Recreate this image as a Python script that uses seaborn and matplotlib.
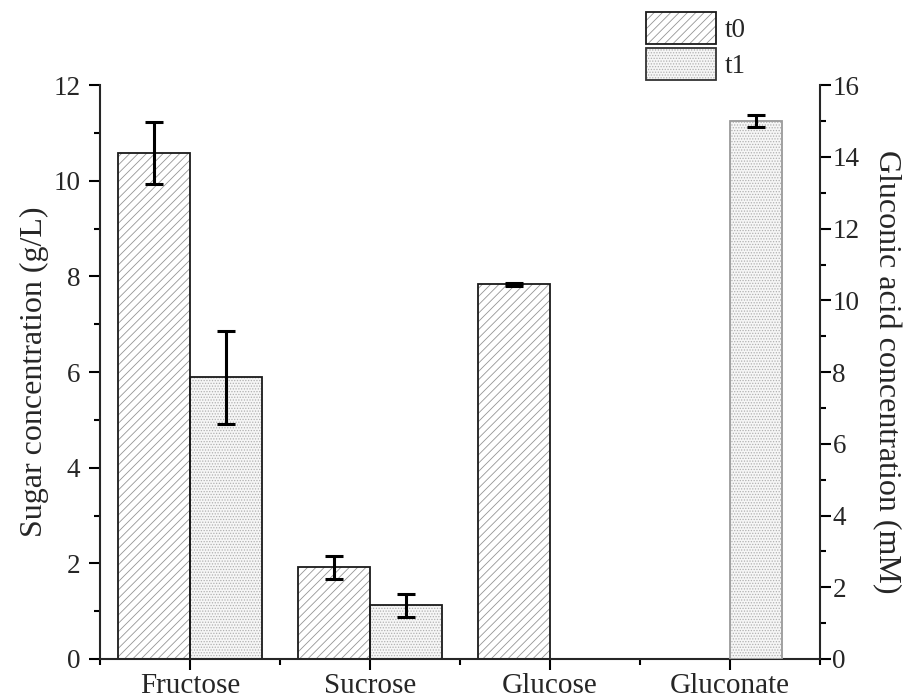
import matplotlib
matplotlib.use('Agg')
import matplotlib.pyplot as plt
import seaborn as sns
import pandas as pd
from matplotlib.patches import Patch
from matplotlib.legend_handler import HandlerTuple
from matplotlib.ticker import MultipleLocator, FixedLocator

# ---- data ----
categories = ['Fructose', 'Sucrose', 'Glucose', 'Gluconate']
series = ['t0', 't1']

t0_cats = ['Fructose', 'Sucrose', 'Glucose']
t0_vals = [10.58, 1.92, 7.84]
t0_errs = [0.65, 0.24, 0.03]

t1_cats = ['Fructose', 'Sucrose']
t1_vals = [5.89, 1.12]
t1_errs = [0.98, 0.24]

gluc_cats = ['Gluconate']
gluc_vals = [15.0]     # mM, right axis
gluc_errs = [0.16]

left_ylabel = 'Sugar concentration (g/L)'
right_ylabel = 'Gluconic acid concentration (mM)'

df_left = pd.DataFrame({
    'category': t0_cats + t1_cats,
    'series': ['t0'] * len(t0_cats) + ['t1'] * len(t1_cats),
    'value': t0_vals + t1_vals,
    'err': t0_errs + t1_errs,
})
df_right = pd.DataFrame({
    'category': gluc_cats,
    'series': ['t1'] * len(gluc_cats),
    'value': gluc_vals,
    'err': gluc_errs,
})

# ---- style ----
sns.set_style('ticks')
plt.rcParams['font.family'] = ['Liberation Serif', 'DejaVu Serif']
plt.rcParams['hatch.linewidth'] = 0.6
plt.rcParams['axes.linewidth'] = 1.5

fig = plt.figure(figsize=(9.08, 6.98), dpi=100)
ax = fig.add_axes([0.110, 0.0559, 0.793, 0.822])
ax2 = ax.twinx()

hatches = {'t0': '////', 't1': '......'}
hatch_cols = {'t0': '#959595', 't1': '#b0b0b0'}
face_cols = {'t0': 'white', 't1': '#f6f6f6'}


def series_of(p):
    cx = p.get_x() + p.get_width() / 2
    return ('t0' if cx < round(cx) else 't1'), categories[int(round(cx))], cx


def draw(axis, data, width, edges):
    # filled, hatched bars (hatch colour = edge colour, edge line hidden)
    n0 = len(axis.patches)
    sns.barplot(data=data, x='category', y='value', hue='series',
                order=categories, hue_order=series, width=width,
                dodge=True, errorbar=None, ax=axis, legend=False,
                palette=face_cols, linewidth=0, saturation=1)
    filled = [p for p in axis.patches[n0:] if p.get_height() > 0]
    for p in filled:
        s, _, _ = series_of(p)
        p.set_hatch(hatches[s])
        p.set_edgecolor(hatch_cols[s])
        p.set_linewidth(0)
    # outlines
    sns.barplot(data=data, x='category', y='value', hue='series',
                order=categories, hue_order=series, width=width,
                dodge=True, errorbar=None, ax=axis, legend=False,
                palette=edges, fill=False, linewidth=1.3, saturation=1)
    # error bars from the drawn bars
    table = data.set_index(['series', 'category'])
    for p in filled:
        s, cat, cx = series_of(p)
        axis.errorbar(cx, table.loc[(s, cat), 'value'],
                      yerr=table.loc[(s, cat), 'err'],
                      fmt='none', ecolor='black', elinewidth=2.2,
                      capsize=6.5, capthick=2.2, zorder=5)


draw(ax, df_left, 0.8, {'t0': '#1a1a1a', 't1': '#1a1a1a'})
draw(ax2, df_right, 0.58, {'t0': '#1a1a1a', 't1': '#9a9a9a'})

# ---- axes ----
ax.set_xlim(-0.5, 3.5)
ax.set_ylim(0, 12)
ax2.set_ylim(0, 16)

ax.xaxis.set_major_locator(FixedLocator(range(len(categories))))
ax.set_xticklabels(categories, fontsize=21)
ax.xaxis.set_minor_locator(FixedLocator([i - 0.5 for i in range(len(categories) + 1)]))
ax.yaxis.set_major_locator(MultipleLocator(2))
ax.yaxis.set_minor_locator(MultipleLocator(1))
ax2.yaxis.set_major_locator(MultipleLocator(2))
ax2.yaxis.set_minor_locator(MultipleLocator(1))

ax.set_xlabel('')
ax2.set_xlabel('')
ax.set_ylabel(left_ylabel, fontsize=23, labelpad=3)
ax2.set_ylabel(right_ylabel, fontsize=23, rotation=270, labelpad=30)

ax.tick_params(axis='both', which='major', direction='out', length=8, width=1.5,
               labelsize=19.5, color='black')
ax.tick_params(axis='both', which='minor', direction='out', length=4, width=1.5,
               color='black')
ax.tick_params(axis='x', labelsize=21, pad=2)
ax.tick_params(axis='y', pad=6)
ax2.tick_params(axis='y', which='major', direction='out', length=8, width=1.5,
                labelsize=19.5, pad=1, color='black')
ax2.tick_params(axis='y', which='minor', direction='out', length=4, width=1.5,
                color='black')

for s in ['top', 'right']:
    ax.spines[s].set_visible(False)
for s in ['top', 'left', 'bottom']:
    ax2.spines[s].set_visible(False)
ax2.spines['right'].set_linewidth(1.5)
ax.spines['left'].set_linewidth(1.5)
ax.spines['bottom'].set_linewidth(1.5)

# ---- legend ----
handles = [
    (Patch(facecolor=face_cols['t0'], edgecolor=hatch_cols['t0'], hatch=hatches['t0'], linewidth=0),
     Patch(fill=False, edgecolor='#1a1a1a', linewidth=1.3)),
    (Patch(facecolor=face_cols['t1'], edgecolor=hatch_cols['t1'], hatch=hatches['t1'], linewidth=0),
     Patch(fill=False, edgecolor='#333333', linewidth=1.3)),
]
fig.legend(handles, series, handler_map={tuple: HandlerTuple(ndivide=1)},
           loc='upper left', bbox_to_anchor=(0.712, 0.983), frameon=False,
           fontsize=19.5, handlelength=2.55, handleheight=1.47,
           handletextpad=0.35, labelspacing=0.12, borderpad=0, borderaxespad=0)

fig.savefig('out.png', dpi=100)
